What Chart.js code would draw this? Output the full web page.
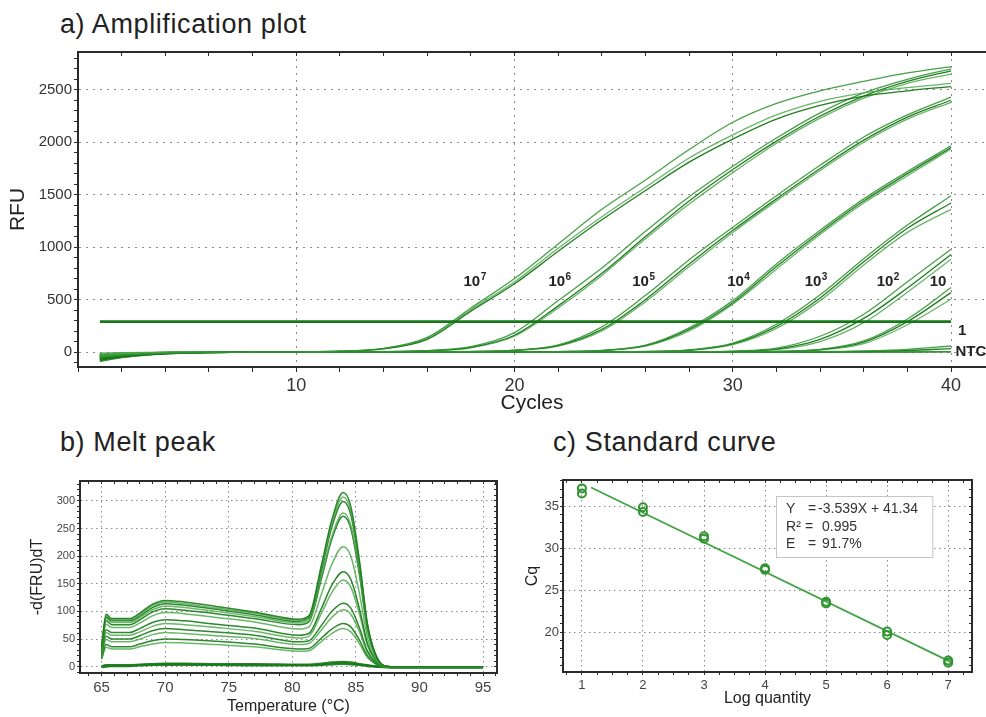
<!DOCTYPE html>
<html>
<head>
<meta charset="utf-8">
<script src="https://cdn.jsdelivr.net/npm/chart.js@4.4.1/dist/chart.umd.min.js"></script>
<style>
  body { margin: 0; background: #fff; width: 986px; height: 717px; overflow: hidden; position: relative;
         font-family: 'Liberation Sans', Arial, sans-serif; }
  .title { position: absolute; font-size: 27px; line-height: 26px; letter-spacing: 0.6px; color: #222; white-space: nowrap; }
  canvas { position: absolute; }
</style>
</head>
<body>
<div class="title" style="left:60px; top:11px">a) Amplification plot</div>
<div class="title" style="left:60px; top:429px">b) Melt peak</div>
<div class="title" style="left:553px; top:429px">c) Standard curve</div>
<canvas id="ampChart" width="986" height="375" style="left:0; top:45px"></canvas>
<canvas id="meltChart" width="505" height="247" style="left:0; top:470px"></canvas>
<canvas id="stdChart" width="481" height="247" style="left:505px; top:470px"></canvas>

<script>
// ---- a) Amplification plot: RFU per cycle, three replicates per dilution ----
const CYCLES = [1, 2, 4, 6, 8, 10, 12, 14, 16, 18, 20, 22, 24, 26, 28, 30, 32, 34, 36, 38, 40];

const RFU_1E7 = [
    [-50, -30, -10, -3, 0, 2, 8, 35, 140, 420, 700, 1030, 1360, 1640, 1930, 2190, 2370, 2490, 2580, 2660, 2720],
    [-70, -42, -15, -5, 0, 2, 7, 30, 120, 390, 650, 960, 1260, 1540, 1810, 2030, 2220, 2350, 2440, 2490, 2530],
    [-25, -15, -5, -2, 0, 2, 7, 32, 130, 405, 670, 990, 1290, 1570, 1850, 2070, 2260, 2390, 2470, 2520, 2560]
];
const RFU_1E6 = [
    [-35, -20, -7, -2, 0, 0, 1, 4, 14, 51, 185, 490, 800, 1150, 1480, 1770, 2040, 2280, 2470, 2600, 2700],
    [-60, -36, -12, -4, 0, 0, 1, 3, 12, 44, 160, 440, 750, 1100, 1440, 1740, 2010, 2250, 2440, 2580, 2680],
    [-20, -12, -4, -1, 0, 0, 1, 3, 11, 40, 150, 420, 730, 1080, 1410, 1710, 1990, 2230, 2420, 2560, 2650]
];
const RFU_1E5 = [
    [-45, -28, -10, -3, 0, 0, 0, 0, 1, 5, 18, 67, 240, 540, 880, 1190, 1490, 1780, 2050, 2260, 2430],
    [-80, -48, -16, -5, 0, 0, 0, 0, 1, 4, 16, 60, 215, 500, 840, 1160, 1460, 1750, 2020, 2240, 2400],
    [-10, -6, -2, 0, 0, 0, 0, 0, 1, 4, 15, 55, 200, 480, 815, 1140, 1440, 1730, 2000, 2220, 2380]
];
const RFU_1E4 = [
    [-55, -33, -11, -3, 0, 0, 0, 0, 0, 0, 1, 4, 15, 65, 230, 490, 840, 1160, 1460, 1720, 1965],
    [-30, -18, -6, -2, 0, 0, 0, 0, 0, 0, 1, 4, 14, 60, 215, 470, 815, 1140, 1440, 1700, 1950],
    [-75, -45, -15, -5, 0, 0, 0, 0, 0, 0, 1, 3, 13, 55, 200, 455, 790, 1120, 1420, 1680, 1935]
];
const RFU_1E3 = [
    [-40, -24, -8, -2, 0, 0, 0, 0, 0, 0, 0, 0, 1, 5, 20, 85, 265, 545, 890, 1210, 1490],
    [-65, -39, -13, -4, 0, 0, 0, 0, 0, 0, 0, 0, 1, 4, 18, 78, 245, 515, 860, 1180, 1420],
    [-20, -12, -4, -1, 0, 0, 0, 0, 0, 0, 0, 0, 1, 4, 16, 70, 225, 490, 830, 1140, 1360]
];
const RFU_1E2 = [
    [-50, -30, -10, -3, 0, 0, 0, 0, 0, 0, 0, 0, 0, 1, 3, 9, 37, 150, 360, 670, 980],
    [-35, -21, -7, -2, 0, 0, 0, 0, 0, 0, 0, 0, 0, 1, 2, 5, 28, 120, 320, 610, 930],
    [-85, -51, -17, -6, 0, 0, 0, 0, 0, 0, 0, 0, 0, 0, 1, 4, 22, 100, 280, 570, 884]
];
const RFU_1E1 = [
    [-30, -18, -6, -2, 0, 0, 0, 0, 0, 0, 0, 0, 0, 0, 0, 1, 6, 25, 105, 315, 614],
    [-60, -36, -12, -4, 0, 0, 0, 0, 0, 0, 0, 0, 0, 0, 0, 1, 5, 22, 95, 290, 566],
    [-45, -27, -9, -3, 0, 0, 0, 0, 0, 0, 0, 0, 0, 0, 0, 1, 4, 18, 80, 260, 503]
];
const RFU_1E0 = [
    [-40, -24, -8, -2, 0, 0, 0, 0, 0, 0, 0, 0, 0, 0, 0, 0, 1, 3, 10, 25, 57],
    [-20, -12, -4, -1, 0, 0, 0, 0, 0, 0, 0, 0, 0, 0, 0, 0, 1, 2, 6, 15, 32]
];
const RFU_NTC = [
    [-30, -18, -6, -2, 0, 0, 0, 0, 0, 0, 0, 0, 0, 0, 0, 0, 0, 0, 0, 1, 3],
    [-90, -54, -18, -6, -1, 0, 0, 0, 0, 0, 0, 0, 0, 0, 0, 0, 0, 0, 0, 0, 1]
];
const THRESHOLD = 290;
const THRESHOLD_CYCLES = [1, 40];
const AMP_LABELS = ['10', '10', '10', '10', '10', '10', '10', '1', 'NTC'];
const AMP_EXPONENTS = ['7', '6', '5', '4', '3', '2', '', '', ''];

// ---- b) Melt peak: -d(RFU)/dT per temperature ----
const TEMPS = [65, 65.35, 65.8, 67.2, 68, 69, 70, 71.5, 74, 77, 80.5, 81.3, 82.3, 83.1, 84, 84.6, 85.3, 85.9, 86.5, 87.2, 88, 95];
const MELT_CURVES = [
    [35, 95, 87, 87, 97, 113, 120, 117, 109, 99, 86, 92, 185, 265, 315, 290, 189, 79, 25, 2, 0, 0],
    [34, 92, 85, 85, 95, 110, 117, 114, 106, 97, 84, 90, 180, 259, 307, 282, 184, 77, 25, 2, 0, 0],
    [33, 90, 83, 83, 92, 107, 114, 111, 104, 94, 82, 88, 175, 252, 299, 275, 179, 75, 24, 2, 0, 0],
    [32, 87, 80, 80, 89, 103, 110, 107, 100, 91, 79, 84, 165, 235, 278, 256, 167, 70, 22, 2, 0, 0],
    [30, 83, 76, 76, 85, 99, 105, 102, 96, 87, 76, 81, 160, 230, 272, 250, 163, 68, 22, 2, 0, 0],
    [28, 77, 71, 71, 79, 92, 98, 96, 89, 81, 68, 72, 132, 185, 217, 200, 130, 54, 17, 1, 0, 0],
    [25, 67, 62, 62, 69, 80, 85, 83, 77, 70, 57, 60, 106, 147, 172, 158, 103, 43, 14, 1, 0, 0],
    [23, 62, 57, 57, 63, 73, 78, 76, 71, 64, 52, 55, 97, 134, 157, 144, 94, 39, 13, 1, 0, 0],
    [20, 55, 50, 50, 56, 65, 69, 67, 63, 57, 45, 47, 75, 100, 115, 106, 69, 29, 9, 1, 0, 0],
    [18, 49, 45, 45, 50, 58, 62, 60, 56, 51, 40, 42, 67, 89, 103, 95, 62, 26, 8, 1, 0, 0],
    [15, 40, 36, 36, 41, 47, 50, 49, 46, 41, 32, 33, 52, 68, 78, 72, 47, 20, 6, 0, 0, 0],
    [13, 35, 32, 32, 36, 41, 44, 43, 40, 36, 28, 29, 46, 60, 69, 63, 41, 17, 6, 0, 0, 0]
];
const MELT_FLAT = [
    [0, 2, 2, 2, 3, 4, 5, 5, 4, 4, 3, 3, 4, 6, 7, 6, 4, 2, 1, 0, -1, -1],
    [-1, 0, 1, 1, 2, 3, 3, 3, 3, 2, 2, 2, 3, 4, 5, 4, 3, 1, 0, -1, -2, -2],
    [1, 3, 3, 3, 4, 5, 6, 6, 5, 5, 4, 4, 6, 8, 9, 8, 5, 3, 1, 0, -1, -1]
];

// ---- c) Standard curve ----
const LOG_QTY = [1, 1, 2, 2, 3, 3, 4, 4, 5, 5, 6, 6, 7, 7];
const CQ = [37.1, 36.5, 34.85, 34.3, 31.4, 31.1, 27.6, 27.4, 23.6, 23.4, 20.05, 19.65, 16.6, 16.35];
const FIT_X = [1.15, 7.08];
const FIT_Y = [37.2, 16.3];
const FIT_TEXT = [['Y', '=', '-3.539X + 41.34'], ['R\u00b2', '=', '0.995'], ['E', '=', '91.7%']];

Chart.defaults.font.family = "'Liberation Sans', Arial, sans-serif";
Chart.defaults.color = '#333';

const toPoints = (xs, ys) => xs.map((x, i) => ({ x: x, y: ys[i] }));
const onStep = (v, step) => Math.abs(v / step - Math.round(v / step)) < 1e-6;

// one axis with a fixed box size, minor ticks at every step, labels/grid only on major steps
function ruler(o) {
    const major = o.major || 0;
    return {
        type: 'linear',
        position: o.position,
        min: o.min,
        max: o.max,
        afterBuildTicks: function (scale) {
            const ticks = [];
            for (let k = Math.ceil(o.min / o.step - 1e-9); k * o.step <= o.max + 1e-9; k++) {
                ticks.push({ value: Math.round(k * o.step * 1000) / 1000 });
            }
            scale.ticks = ticks;
        },
        afterFit: function (scale) {
            if (scale.isHorizontal()) scale.height = o.size; else scale.width = o.size;
            scale.paddingTop = 0; scale.paddingBottom = 0;
            scale.paddingLeft = 0; scale.paddingRight = 0;
        },
        title: o.title
            ? { display: true, text: o.title, color: '#222', font: { size: o.titleSize }, padding: o.titlePad }
            : { display: false },
        ticks: {
            display: major > 0,
            autoSkip: false,
            maxRotation: 0,
            minRotation: 0,
            padding: o.tickPad || 2,
            color: o.tickColor || '#333',
            font: { size: o.fontSize || 12 },
            callback: v => (major && onStep(v, major) && !(o.skipZero && v === 0)) ? String(Math.round(v)) : ''
        },
        grid: {
            drawOnChartArea: !!o.grid,
            color: c => (o.grid && c.tick && onStep(c.tick.value, o.grid)) ? '#8a8a8a' : 'rgba(0,0,0,0)',
            lineWidth: 1,
            tickLength: o.tickLength || 4,
            tickColor: '#2b2b2b',
            tickWidth: 1,
            tickBorderDash: []
        },
        border: { display: true, color: '#2b2b2b', width: 2, dash: o.dash || [2, 5] }
    };
}

const baseOptions = {
    responsive: false,
    animation: false,
    devicePixelRatio: 1,
    layout: { padding: 0 },
    plugins: { legend: { display: false }, tooltip: { enabled: false } }
};

// Dilution labels on the amplification plot
const ampLabels = {
    id: 'ampLabels',
    afterDatasetsDraw(chart) {
        const cycle = [18.17, 22.06, 25.9, 30.25, 33.8, 37.1, 39.4, 40.32, 40.2];
        const rfu = [665, 665, 665, 665, 665, 665, 665, 197, 2];
        const { ctx, scales: { x, y } } = chart;
        ctx.save();
        ctx.fillStyle = '#222';
        ctx.textBaseline = 'middle';
        ctx.textAlign = 'left';
        AMP_LABELS.forEach((text, i) => {
            const px = x.getPixelForValue(cycle[i]);
            const py = y.getPixelForValue(rfu[i]);
            ctx.font = "bold 15px 'Liberation Sans', Arial";
            const w1 = ctx.measureText(text).width;
            ctx.font = "bold 10px 'Liberation Sans', Arial";
            const w2 = AMP_EXPONENTS[i] ? ctx.measureText(AMP_EXPONENTS[i]).width : 0;
            const start = i < 7 ? px - (w1 + w2) / 2 : px;
            ctx.font = "bold 15px 'Liberation Sans', Arial";
            ctx.fillText(text, start, py);
            if (AMP_EXPONENTS[i]) {
                ctx.font = "bold 10px 'Liberation Sans', Arial";
                ctx.fillText(AMP_EXPONENTS[i], start + w1 + 0.5, py - 5);
            }
        });
        ctx.restore();
    }
};

// Regression text box on the standard curve
const fitBox = {
    id: 'fitBox',
    afterDraw(chart) {
        const { ctx, scales: { x, y } } = chart;
        const left = x.getPixelForValue(4.18), right = x.getPixelForValue(6.74);
        const top = y.getPixelForValue(36.19), bottom = y.getPixelForValue(28.93);
        ctx.save();
        ctx.fillStyle = '#fff';
        ctx.fillRect(left, top, right - left, bottom - top);
        ctx.strokeStyle = '#c4c4c4';
        ctx.lineWidth = 1;
        ctx.strokeRect(left + 0.5, top + 0.5, right - left, bottom - top);
        ctx.fillStyle = '#333';
        ctx.font = "14px 'Liberation Sans', Arial";
        ctx.textBaseline = 'middle';
        const eqX = [32, 29, 32];
        const valX = [42, 46, 46];
        FIT_TEXT.forEach((line, i) => {
            const ly = top + 13.5 + i * 17.3;
            ctx.fillText(line[0], left + 10, ly);
            ctx.fillText(line[1], left + eqX[i], ly);
            ctx.fillText(line[2], left + valX[i], ly);
        });
        ctx.restore();
    }
};

// ---- a) Amplification plot ----
const CURVE_COLORS = ['rgba(52,150,52,0.9)', 'rgba(22,118,22,0.95)', 'rgba(78,168,78,0.85)'];
const ampDatasets = [];
[RFU_1E7, RFU_1E6, RFU_1E5, RFU_1E4, RFU_1E3, RFU_1E2, RFU_1E1, RFU_1E0, RFU_NTC].forEach(group => {
    group.forEach((rfu, i) => {
        ampDatasets.push({
            data: toPoints(CYCLES, rfu),
            borderColor: CURVE_COLORS[i % 3],
            borderWidth: 1.3,
            pointRadius: 0,
            cubicInterpolationMode: 'monotone'
        });
    });
});
ampDatasets.push({
    data: toPoints(THRESHOLD_CYCLES, [THRESHOLD, THRESHOLD]),
    borderColor: '#177817',
    borderWidth: 2.6,
    pointRadius: 0,
    order: -1
});

new Chart(document.getElementById('ampChart'), {
    type: 'line',
    data: { datasets: ampDatasets },
    options: {
        ...baseOptions,
        scales: {
            x: ruler({ position: 'bottom', size: 53, min: 0, max: 41.6, step: 2, major: 10, grid: 10, skipZero: true,
                       fontSize: 18, tickLength: 5, tickPad: 3,
                       title: 'Cycles', titleSize: 21, titlePad: { top: 0, bottom: 4 } }),
            xTop: ruler({ position: 'top', size: 7, min: 0, max: 41.6, step: 2, tickLength: -4 }),
            y: ruler({ position: 'left', size: 78, min: -143, max: 2860, step: 100, major: 500, grid: 500,
                       fontSize: 15, tickLength: 4, tickPad: 2,
                       title: 'RFU', titleSize: 21, titlePad: { top: 6, bottom: 0 } })
        }
    },
    plugins: [ampLabels]
});

// ---- b) Melt peak ----
const MELT_COLORS = ['rgba(24,122,24,0.9)', 'rgba(80,170,80,0.85)'];
const meltDatasets = MELT_CURVES.map((d, i) => ({
    data: toPoints(TEMPS, d),
    borderColor: MELT_COLORS[i % 2],
    borderWidth: 1.5,
    pointRadius: 0,
    cubicInterpolationMode: 'monotone'
}));
MELT_FLAT.forEach(d => meltDatasets.push({
    data: toPoints(TEMPS, d),
    borderColor: 'rgba(24,122,24,0.9)',
    borderWidth: 2,
    pointRadius: 0,
    cubicInterpolationMode: 'monotone'
}));

new Chart(document.getElementById('meltChart'), {
    type: 'line',
    data: { datasets: meltDatasets },
    options: {
        ...baseOptions,
        scales: {
            x: ruler({ position: 'bottom', size: 44, min: 63.3, max: 96.1, step: 1, major: 5, grid: 5,
                       fontSize: 15, tickLength: 3, tickPad: 3, tickColor: '#444', dash: [1.5, 3.5],
                       title: 'Temperature (\u00b0C)', titleSize: 16, titlePad: { top: 0, bottom: 1 } }),
            xTop: ruler({ position: 'top', size: 11, min: 63.3, max: 96.1, step: 1, tickLength: -3 }),
            y: ruler({ position: 'left', size: 80, min: -11.4, max: 336, step: 10, major: 50, grid: 50,
                       fontSize: 11, tickLength: 3, tickPad: 2, tickColor: '#444', dash: [1.5, 3.5],
                       title: '-d(FRU)dT', titleSize: 16, titlePad: { top: 28, bottom: 0 } }),
            yRight: ruler({ position: 'right', size: 8, min: -11.4, max: 336, step: 10, tickLength: -3 })
        }
    }
});

// ---- c) Standard curve ----
new Chart(document.getElementById('stdChart'), {
    type: 'line',
    data: {
        datasets: [
            {
                data: toPoints(LOG_QTY, CQ),
                showLine: false,
                pointRadius: 4,
                pointBorderWidth: 2,
                pointBorderColor: '#2f952f',
                pointBackgroundColor: 'rgba(255,255,255,0)',
                order: 0
            },
            {
                data: toPoints(FIT_X, FIT_Y),
                borderColor: '#45a445',
                borderWidth: 1.8,
                pointRadius: 0,
                order: 1
            }
        ]
    },
    options: {
        ...baseOptions,
        scales: {
            x: ruler({ position: 'bottom', size: 45, min: 0.69, max: 7.39, step: 0.25, major: 1, grid: 1,
                       fontSize: 13, tickLength: 3, tickPad: 3, tickColor: '#444', dash: [1.5, 3.5],
                       title: 'Log quantity', titleSize: 16, titlePad: { top: 0, bottom: 9 } }),
            xTop: ruler({ position: 'top', size: 10, min: 0.69, max: 7.39, step: 0.25, tickLength: -3 }),
            y: ruler({ position: 'left', size: 58, min: 15.24, max: 38.1, step: 1, major: 5, grid: 5,
                       fontSize: 13, tickLength: 3, tickPad: 1, tickColor: '#444', dash: [1.5, 3.5],
                       title: 'Cq', titleSize: 16, titlePad: { top: 18, bottom: 0 } }),
            yRight: ruler({ position: 'right', size: 14, min: 15.24, max: 38.1, step: 1, tickLength: -3 })
        }
    },
    plugins: [fitBox]
});
</script>
</body>
</html>
